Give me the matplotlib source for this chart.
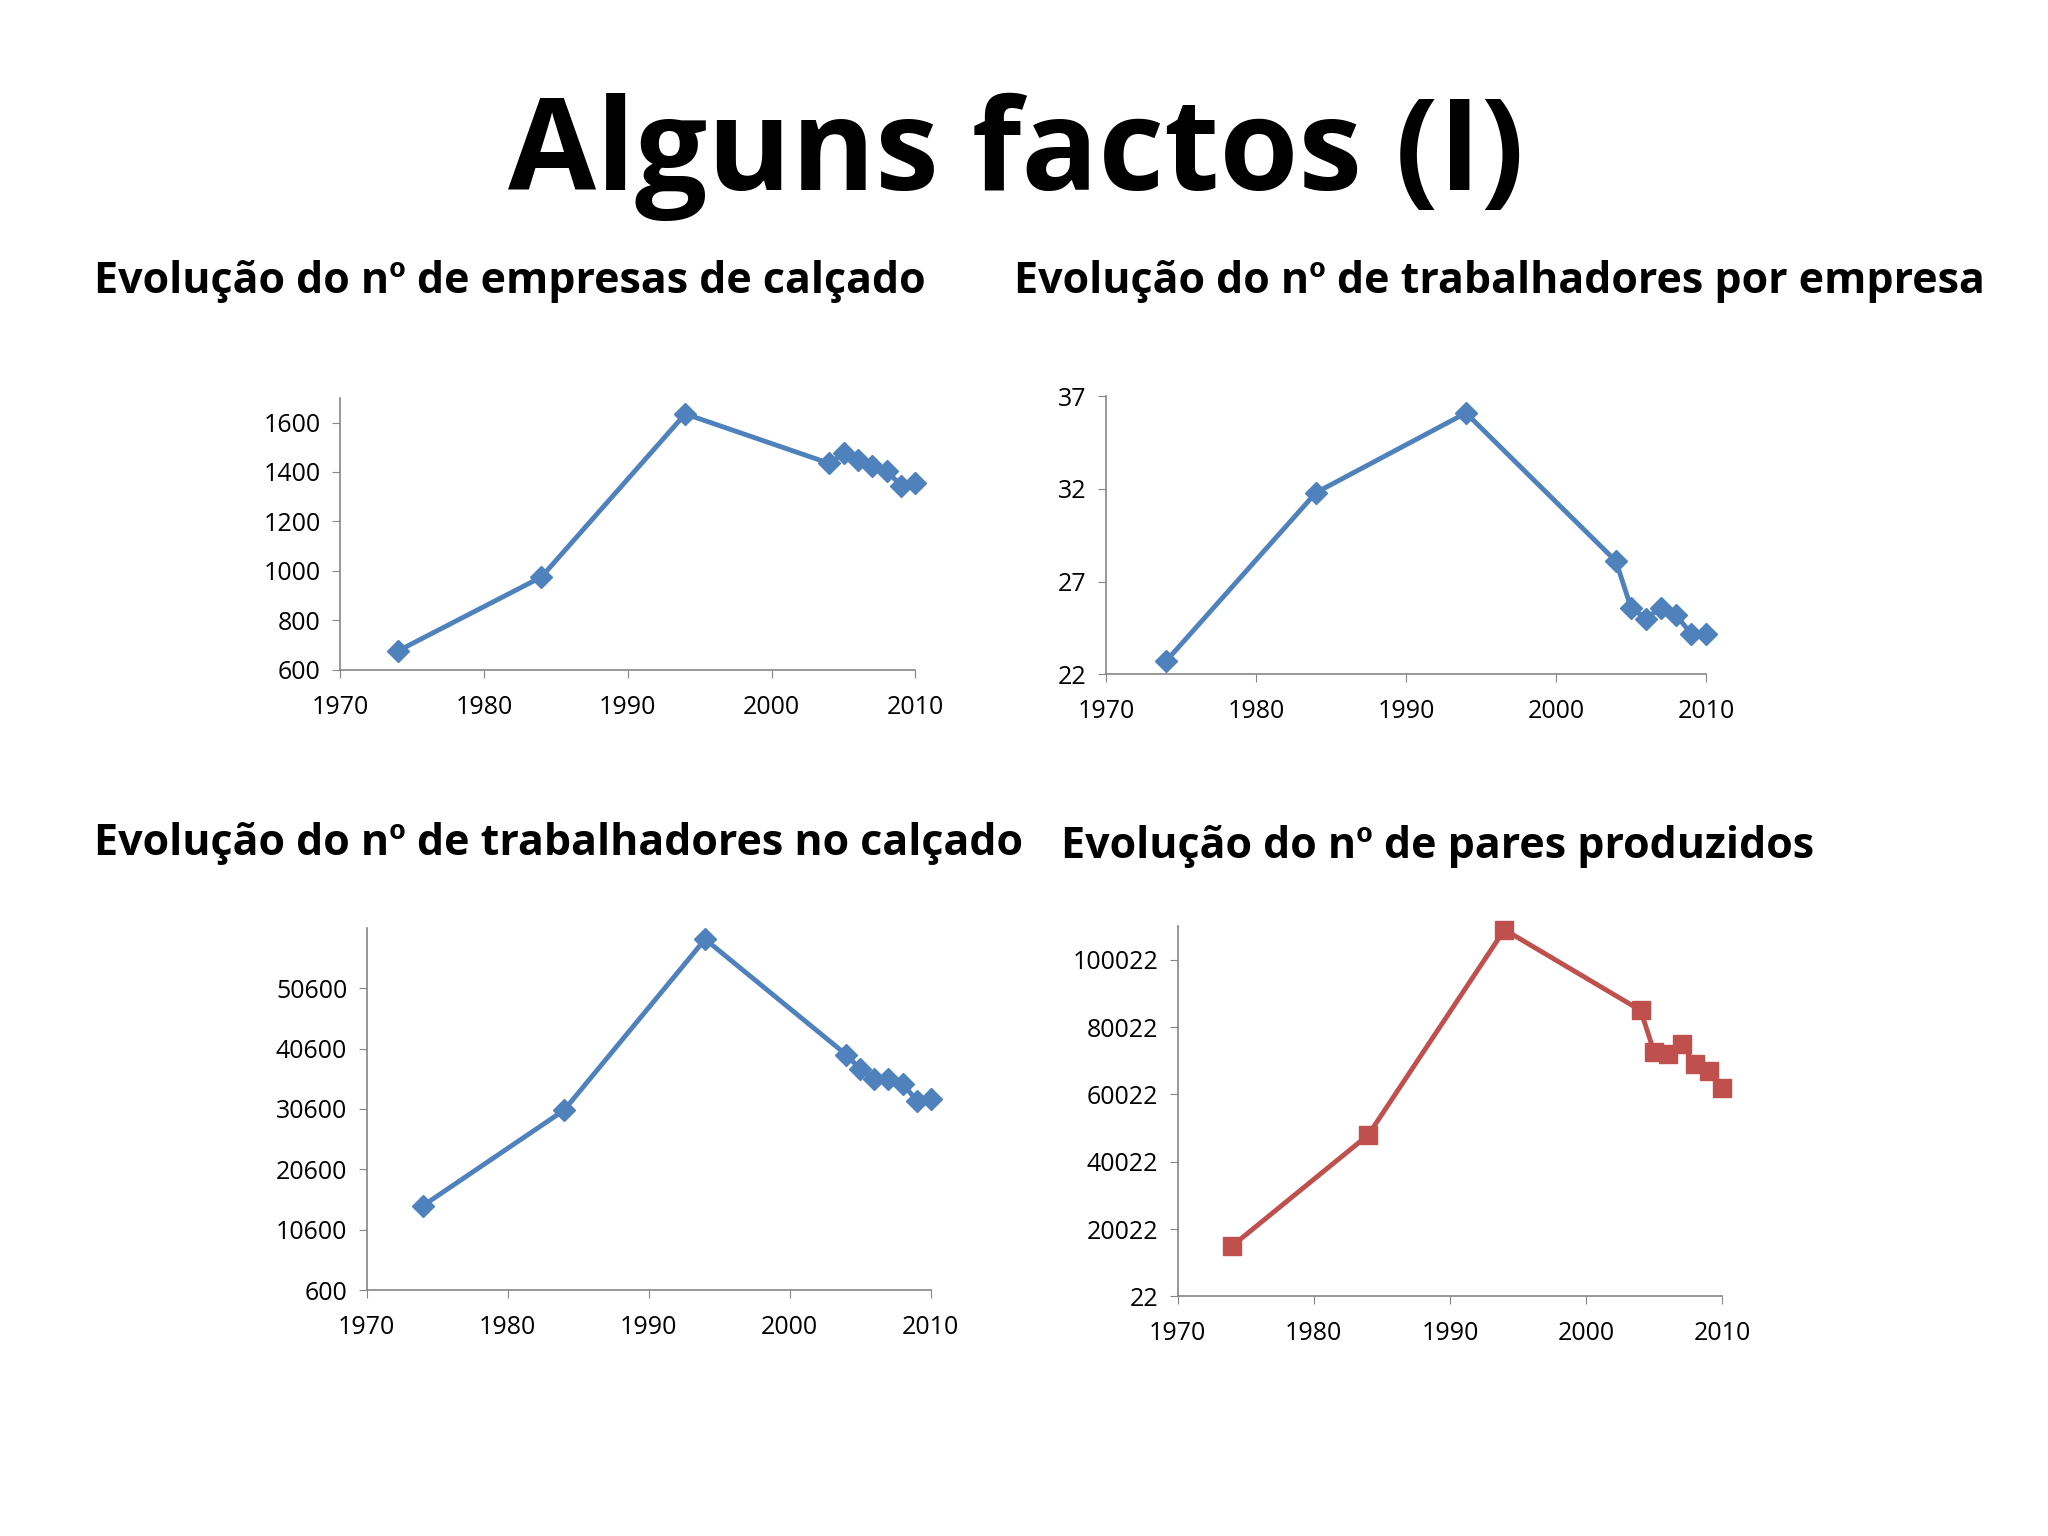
import matplotlib
matplotlib.use("Agg")
import matplotlib.pyplot as plt

years = [1974, 1984, 1994, 2004, 2005, 2006, 2007, 2008, 2009, 2010]
empresas = [675, 975, 1635, 1435, 1475, 1450, 1425, 1405, 1345, 1355]
trab_por_empresa = [22.7, 31.8, 36.1, 28.1, 25.6, 25.0, 25.6, 25.2, 24.2, 24.2]
trabalhadores = [14600, 30400, 58700, 39600, 37200, 35600, 35600, 34800, 32000, 32200]
pares = [15000, 48000, 109000, 85000, 72500, 72000, 75000, 69000, 67000, 62000]

BLUE = "#4F81BD"
RED = "#C0504D"
FONT = ["Open Sans", "DejaVu Sans"]
plt.rcParams["font.family"] = FONT

fig = plt.figure(figsize=(20.48, 15.36), dpi=100)
fig.text(0.496, 0.898, "Alguns factos (I)", ha="center", va="center",
         fontsize=92, fontweight="bold")

subtitles = [
    (0.046, 0.817, "Evolução do nº de empresas de calçado"),
    (0.495, 0.817, "Evolução do nº de trabalhadores por empresa"),
    (0.046, 0.451, "Evolução do nº de trabalhadores no calçado"),
    (0.518, 0.449, "Evolução do nº de pares produzidos"),
]
for x, y, s in subtitles:
    fig.text(x, y, s, ha="left", va="center", fontsize=31, fontweight="bold")

panels = [
    ([0.166, 0.564, 0.281, 0.177], empresas, BLUE, "D", (600, 1700), list(range(600, 1601, 200))),
    ([0.540, 0.561, 0.293, 0.181], trab_por_empresa, BLUE, "D", (22, 37), [22, 27, 32, 37]),
    ([0.179, 0.160, 0.2755, 0.236], trabalhadores, BLUE, "D", (600, 60600), list(range(600, 50601, 10000))),
    ([0.575, 0.156, 0.266, 0.241], pares, RED, "s", (22, 110022), list(range(22, 100023, 20000))),
]

for rect, vals, color, marker, ylim, yticks in panels:
    ax = fig.add_axes(rect)
    ms = 11 if marker == "D" else 13
    ax.plot(years, vals, color=color, lw=3.5, marker=marker, ms=ms, clip_on=False)
    ax.set_xlim(1970, 2010)
    ax.set_ylim(*ylim)
    ax.set_xticks([1970, 1980, 1990, 2000, 2010])
    ax.set_yticks(yticks)
    ax.spines[["top", "right"]].set_visible(False)
    for sp in ("left", "bottom"):
        ax.spines[sp].set_color("#868686")
        ax.spines[sp].set_linewidth(1.2)
    ax.tick_params(direction="out", length=6, color="#868686", labelsize=18, pad=8)
    ax.tick_params(axis="x", pad=12)

fig.savefig("out.png", dpi=100)
